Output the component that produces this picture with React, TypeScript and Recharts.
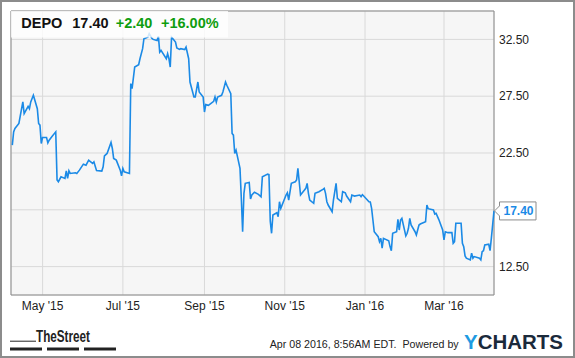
import React from 'react';
import { LineChart, Line, XAxis, YAxis, CartesianGrid, ReferenceArea } from 'recharts';

// DEPO daily close
const dates = [
  '2015-04-08', '2015-04-09', '2015-04-10', '2015-04-13', '2015-04-16', '2015-04-17', '2015-04-20', '2015-04-21',
  '2015-04-22', '2015-04-24', '2015-04-27', '2015-04-28', '2015-04-29', '2015-04-30', '2015-05-01', '2015-05-04',
  '2015-05-05', '2015-05-06', '2015-05-08', '2015-05-11', '2015-05-12', '2015-05-13', '2015-05-15', '2015-05-18',
  '2015-05-19', '2015-05-20', '2015-05-21', '2015-05-22', '2015-05-26', '2015-05-27', '2015-05-29', '2015-06-01',
  '2015-06-03', '2015-06-05', '2015-06-08', '2015-06-09', '2015-06-10', '2015-06-11', '2015-06-15', '2015-06-16',
  '2015-06-17', '2015-06-19', '2015-06-22', '2015-06-23', '2015-06-24', '2015-06-26', '2015-06-29', '2015-06-30',
  '2015-07-01', '2015-07-02', '2015-07-06', '2015-07-07', '2015-07-08', '2015-07-10', '2015-07-13', '2015-07-14',
  '2015-07-16', '2015-07-17', '2015-07-20', '2015-07-21', '2015-07-23', '2015-07-24', '2015-07-27', '2015-07-28',
  '2015-07-29', '2015-07-30', '2015-08-03', '2015-08-04', '2015-08-05', '2015-08-06', '2015-08-07', '2015-08-10',
  '2015-08-11', '2015-08-13', '2015-08-14', '2015-08-17', '2015-08-18', '2015-08-20', '2015-08-21', '2015-08-24',
  '2015-08-25', '2015-08-27', '2015-08-28', '2015-08-31', '2015-09-01', '2015-09-02', '2015-09-04', '2015-09-08',
  '2015-09-09', '2015-09-10', '2015-09-11', '2015-09-14', '2015-09-15', '2015-09-17', '2015-09-18', '2015-09-21',
  '2015-09-22', '2015-09-23', '2015-09-24', '2015-09-25', '2015-09-28', '2015-09-29', '2015-09-30', '2015-10-01',
  '2015-10-02', '2015-10-05', '2015-10-06', '2015-10-07', '2015-10-09', '2015-10-12', '2015-10-14', '2015-10-15',
  '2015-10-19', '2015-10-20', '2015-10-21', '2015-10-22', '2015-10-23', '2015-10-26', '2015-10-27', '2015-10-28',
  '2015-10-29', '2015-11-02', '2015-11-03', '2015-11-04', '2015-11-06', '2015-11-09', '2015-11-10', '2015-11-11',
  '2015-11-12', '2015-11-13', '2015-11-16', '2015-11-17', '2015-11-18', '2015-11-19', '2015-11-20', '2015-11-23',
  '2015-11-24', '2015-11-27', '2015-11-30', '2015-12-01', '2015-12-02', '2015-12-03', '2015-12-04', '2015-12-07',
  '2015-12-08', '2015-12-10', '2015-12-11', '2015-12-14', '2015-12-15', '2015-12-17', '2015-12-18', '2015-12-21',
  '2015-12-22', '2015-12-24', '2015-12-28', '2015-12-29', '2015-12-30', '2015-12-31', '2016-01-04', '2016-01-05',
  '2016-01-06', '2016-01-07', '2016-01-08', '2016-01-11', '2016-01-12', '2016-01-13', '2016-01-14', '2016-01-15',
  '2016-01-19', '2016-01-20', '2016-01-21', '2016-01-22', '2016-01-25', '2016-01-26', '2016-01-27', '2016-01-28',
  '2016-01-29', '2016-02-01', '2016-02-02', '2016-02-03', '2016-02-04', '2016-02-05', '2016-02-08', '2016-02-09',
  '2016-02-10', '2016-02-11', '2016-02-12', '2016-02-16', '2016-02-17', '2016-02-18', '2016-02-22', '2016-02-23',
  '2016-02-24', '2016-02-26', '2016-02-29', '2016-03-01', '2016-03-02', '2016-03-04', '2016-03-07', '2016-03-08',
  '2016-03-09', '2016-03-10', '2016-03-14', '2016-03-15', '2016-03-16', '2016-03-17', '2016-03-18', '2016-03-21',
  '2016-03-22', '2016-03-23', '2016-03-24', '2016-03-28', '2016-03-29', '2016-03-30', '2016-03-31', '2016-04-01',
  '2016-04-04', '2016-04-05', '2016-04-06', '2016-04-08',
];

const prices = [
  23.2, 24.36, 24.66, 25.1, 27.0, 25.97, 26.6, 26.4,
  27.0, 27.58, 26.4, 25.1, 24.95, 23.34, 23.87, 23.87,
  23.39, 23.63, 23.92, 24.36, 20.12, 19.97, 20.4, 20.26,
  20.93, 20.26, 20.93, 20.7, 20.76, 20.7, 20.99, 21.52,
  21.43, 21.87, 21.58, 21.72, 21.34, 20.95, 20.91, 21.28,
  22.25, 22.46, 23.43, 22.9, 22.02, 21.87, 20.99, 20.49,
  21.14, 20.85, 20.7, 28.61, 28.17, 30.07, 30.28, 30.8,
  31.68, 32.56, 32.7, 33.0, 32.6, 32.5, 32.4, 32.79,
  31.38, 31.53, 30.8, 31.24, 30.8, 30.07, 32.7, 32.26,
  31.74, 31.62, 31.68, 31.6, 31.82, 30.8, 28.75, 27.43,
  27.43, 28.75, 27.87, 27.43, 26.11, 26.76, 26.7, 27.05,
  27.43, 26.99, 27.43, 27.58, 27.87, 28.75, 28.46, 27.73,
  24.22, 24.07, 22.46, 22.75, 21.14, 18.51, 15.57, 18.95,
  19.83, 19.91, 18.45, 18.8, 19.04, 18.86, 18.65, 20.41,
  20.64, 20.6, 16.5, 15.43, 17.04, 17.24, 16.89, 18.21,
  17.63, 18.8, 19.0, 18.36, 19.83, 19.97, 20.12, 21.14,
  19.97, 18.8, 19.24, 19.39, 19.83, 18.95, 18.36, 18.07,
  18.95, 19.09, 19.3, 19.39, 18.95, 18.21, 17.92, 17.33,
  18.36, 19.83, 18.51, 18.21, 19.09, 19.0, 18.71, 18.21,
  18.8, 18.71, 18.8, 18.65, 18.83, 18.71, 18.21, 18.19,
  17.63, 16.6, 15.57, 15.13, 14.69, 14.99, 14.12, 14.99,
  14.78, 14.26, 13.9, 15.43, 15.57, 16.66, 15.72, 16.6,
  16.75, 15.2, 15.43, 15.87, 16.75, 16.16, 15.57, 15.28,
  15.72, 16.16, 16.25, 16.45, 17.92, 17.6, 17.48, 17.13,
  17.19, 16.66, 15.72, 14.85, 15.57, 15.49, 15.49, 14.55,
  14.69, 16.31, 16.31, 14.55, 14.26, 13.44, 13.24, 13.09,
  13.68, 13.24, 13.38, 13.24, 13.09, 13.82, 13.9, 14.4,
  14.47, 13.9, 15.0, 17.4,
];

const xTickDates = ['2015-05-01', '2015-07-01', '2015-09-01', '2015-11-01', '2016-01-01', '2016-03-01'];
const xRange = ['2015-04-07', '2016-04-08'];
const yTicks = [12.5, 17.5, 22.5, 27.5, 32.5];
const yRange = [10, 35];
const monthNames = ['Jan', 'Feb', 'Mar', 'Apr', 'May', 'Jun', 'Jul', 'Aug', 'Sep', 'Oct', 'Nov', 'Dec'];

const ticker = 'DEPO';
const lastText = '17.40';
const changeText = '+2.40';
const pctText = '+16.00%';
const stampText = 'Apr 08 2016, 8:56AM EDT.  Powered by';

const FONT = '"Liberation Sans", Arial, Helvetica, sans-serif';
const BLUE = '#1b8ae6';
const GREEN = '#0f9d0f';

const toTime = (s: string) => {
  const [y, m, d] = s.split('-').map(Number);
  return Date.UTC(y, m - 1, d);
};

const data = dates.map((d, i) => ({ t: toTime(d), price: prices[i] }));
const lastIndex = prices.length - 1;

const fmtMonth = (t: number) => {
  const dt = new Date(t);
  return `${monthNames[dt.getUTCMonth()]} '${String(dt.getUTCFullYear()).slice(2)}`;
};

// price flag on the last point, overlapping the right axis
function PriceFlag(props: any) {
  const vb = props.viewBox || {};
  const x = vb.x ?? props.x;
  const y = vb.y ?? props.y;
  if (props.index !== lastIndex && props.value !== prices[lastIndex]) return null;
  if (x == null || y == null) return null;
  const l = x + 5.5;
  const r = x + 42;
  return (
    <g>
      <path
        d={`M${x + 0.5},${y} L${l},${y - 5} L${l},${y - 9} L${r},${y - 9} L${r},${y + 9} L${l},${y + 9} L${l},${y + 5} Z`}
        fill="#fff"
        stroke="#8c8c8c"
      />
      <text x={l + 4} y={y + 4.5} fill={BLUE} fontWeight="bold" fontSize={12} fontFamily={FONT}>
        {lastText}
      </text>
    </g>
  );
}

export default function App() {
  return (
    <div style={{ position: 'absolute', left: 0, top: 0, width: 575, height: 358, background: '#fff', fontFamily: FONT }}>
      <LineChart width={575} height={358} data={data} margin={{ top: 11, right: 11, bottom: 33, left: 11 }}>
        <CartesianGrid stroke="#d9d9d9" fill="#f6f6f6" />
        <XAxis
          dataKey="t"
          type="number"
          scale="time"
          domain={[toTime(xRange[0]), toTime(xRange[1])]}
          ticks={xTickDates.map(toTime)}
          tickFormatter={fmtMonth}
          interval={0}
          axisLine={false}
          tickLine={false}
          tickSize={4}
          tickMargin={2}
          height={30}
          tick={{ fill: '#222', fontSize: 12, fontFamily: FONT }}
        />
        <YAxis
          orientation="right"
          type="number"
          domain={yRange}
          ticks={yTicks}
          interval={0}
          tickFormatter={(v: number) => (v === 17.5 ? '' : v.toFixed(2))}
          axisLine={false}
          tickLine={false}
          tickSize={3}
          tickMargin={2}
          width={70}
          tick={{ fill: '#222', fontSize: 12, fontFamily: FONT, textAnchor: 'start' }}
        />
        <ReferenceArea
          x1={toTime(xRange[0])}
          x2={toTime(xRange[1])}
          y1={yRange[0]}
          y2={yRange[1]}
          fill="none"
          stroke="#8c8c8c"
        />
        <Line
          type="linear"
          dataKey="price"
          stroke={BLUE}
          strokeWidth={1.6}
          dot={false}
          isAnimationActive={false}
          label={PriceFlag}
        />
      </LineChart>
      <svg width={575} height={358} style={{ position: 'absolute', left: 0, top: 0, pointerEvents: 'none' }}>
        {/* header box */}
        <rect x={11} y={11} width={217} height={26.5} fill="#fff" fillOpacity={0.8} />
        <text y={28.3} fontFamily={FONT} fontWeight="bold" fontSize={14.5}>
          <tspan x={21.3} fill="#111">{ticker}</tspan>
          <tspan x={72.3} fill="#111">{lastText}</tspan>
          <tspan x={115.7} fill={GREEN}>{changeText}</tspan>
          <tspan x={161} fill={GREEN}>{pctText}</tspan>
        </text>
        {/* footer */}
        <line x1={10} y1={341.2} x2={36} y2={341.2} stroke="#222" strokeWidth={1} />
        <text x={36} y={341.5} fontFamily={FONT} fontWeight="bold" fontSize={16} fill="#222" textLength={54} lengthAdjust="spacingAndGlyphs">
          TheStreet
        </text>
        <rect x={10} y={347.5} width={32} height={3} fill="#222" />
        <rect x={47} y={347.5} width={32} height={3} fill="#222" />
        <rect x={84} y={347.5} width={32} height={3} fill="#222" />
        <text x={269.7} y={347.5} fontFamily={FONT} fontSize={11} fill="#222" textLength={189} lengthAdjust="spacingAndGlyphs" style={{ whiteSpace: 'pre' }}>
          {stampText}
        </text>
        <text x={464} y={349.3} fontFamily={FONT} fontWeight="bold" fontSize={20} textLength={99} lengthAdjust="spacingAndGlyphs">
          <tspan fill="#1e9be2">Y</tspan>
          <tspan fill="#1b2a3b">CHARTS</tspan>
        </text>
        {/* outer frame */}
        <rect x={1} y={1} width={573} height={356} fill="none" stroke="#8c8c8c" strokeWidth={2} />
      </svg>
    </div>
  );
}
